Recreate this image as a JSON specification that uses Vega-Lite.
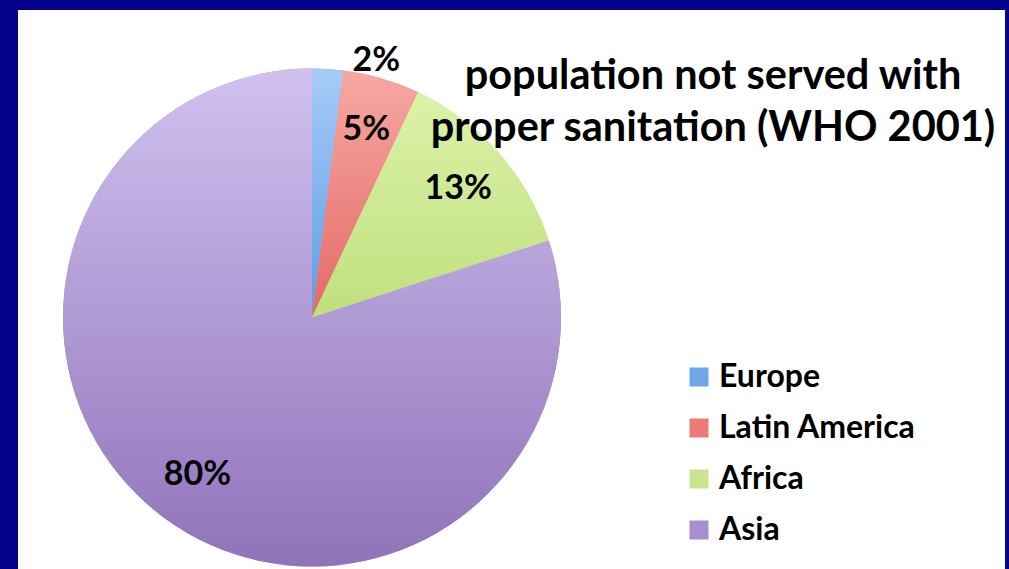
{
  "$schema": "https://vega.github.io/schema/vega-lite/v6.json",
  "background": "#03038c",
  "padding": {"left": 18, "top": 10, "right": 4, "bottom": 0},
  "config": {
    "view": {"fill": "white", "stroke": null},
    "concat": {"spacing": 0},
    "font": "Lato"
  },
  "datasets": {
    "regions": [
      {"region": "Europe", "value": 2, "label": "2%", "order": 1},
      {"region": "Latin America", "value": 5, "label": "5%", "order": 2},
      {"region": "Africa", "value": 13, "label": "13%", "order": 3},
      {"region": "Asia", "value": 80, "label": "80%", "order": 4}
    ]
  },
  "title": {
    "text": ["population not served with", "proper sanitation (WHO 2001)"],
    "font": "Lato",
    "fontSize": 41.5,
    "fontWeight": "bold",
    "color": "black",
    "lineHeight": 52,
    "anchor": "middle",
    "frame": "group",
    "offset": 0,
    "dx": 695,
    "dy": 139
  },
  "spacing": 0,
  "hconcat": [
    {
      "spacing": 0,
      "bounds": "flush",
      "vconcat": [
        {"width": 588, "height": 56, "view": {"fill": "white", "stroke": null}, "data": {"values": []}, "mark": "point"},
        {
          "width": 588,
          "height": 503,
          "view": {"fill": "white", "stroke": null},
          "data": {"name": "regions"},
          "encoding": {
            "theta": {"field": "value", "type": "quantitative", "stack": true},
            "order": {"field": "order", "type": "quantitative"}
          },
          "layer": [
            {
              "mark": {"type": "arc", "outerRadius": 249},
              "encoding": {
                "color": {
                  "field": "region",
                  "type": "nominal",
                  "scale": {
                    "domain": ["Europe", "Latin America", "Africa", "Asia"],
                    "range": ["#6ea8ea", "#ec7b78", "#c9e68f", "#a88dd1"]
                  },
                  "legend": {
                    "orient": "none",
                    "legendX": 665,
                    "legendY": 351,
                    "title": null,
                    "padding": 0,
                    "symbolType": "square",
                    "symbolSize": 361,
                    "symbolStrokeWidth": 0,
                    "labelFont": "Lato",
                    "labelFontSize": 32,
                    "labelFontWeight": "bold",
                    "labelColor": "black",
                    "labelOffset": 4,
                    "labelLimit": 400,
                    "rowPadding": 19
                  }
                }
              }
            },
            {
              "mark": {"type": "arc", "outerRadius": 249},
              "encoding": {
                "detail": {"field": "region"},
                "fill": {
                  "condition": [
                    {"test": "datum.region === 'Europe'", "value": {"gradient": "linear", "x1": 0, "y1": 0, "x2": 0, "y2": 1, "stops": [{"offset": 0, "color": "#a8cbf8"}, {"offset": 1, "color": "#5b9de4"}]}},
                    {"test": "datum.region === 'Latin America'", "value": {"gradient": "linear", "x1": 0, "y1": 0, "x2": 0, "y2": 1, "stops": [{"offset": 0, "color": "#f7a7a3"}, {"offset": 1, "color": "#e46a66"}]}},
                    {"test": "datum.region === 'Africa'", "value": {"gradient": "linear", "x1": 0, "y1": 0, "x2": 0, "y2": 1, "stops": [{"offset": 0, "color": "#dcf2a8"}, {"offset": 1, "color": "#bfe07e"}]}}
                  ],
                  "value": {"gradient": "linear", "x1": 0, "y1": 0, "x2": 0, "y2": 1, "stops": [{"offset": 0, "color": "#d0c1ef"}, {"offset": 1, "color": "#9073ba"}]}
                }
              }
            },
            {
              "mark": {"type": "text", "radius": 195, "font": "Lato", "fontSize": 34, "fontWeight": "bold", "color": "black", "align": "center", "baseline": "middle"},
              "encoding": {
                "detail": {"field": "region"},
                "text": {"condition": {"test": "datum.region !== 'Europe'", "field": "label"}, "value": ""}
              }
            },
            {
              "mark": {"type": "text", "radius": 262, "dx": 24, "dy": 5, "font": "Lato", "fontSize": 34, "fontWeight": "bold", "color": "black", "align": "left", "baseline": "middle"},
              "encoding": {
                "detail": {"field": "region"},
                "text": {"condition": {"test": "datum.region === 'Europe'", "field": "label"}, "value": ""}
              }
            }
          ]
        }
      ]
    },
    {"width": 399, "height": 559, "view": {"fill": "white", "stroke": null}, "data": {"values": []}, "mark": "point"}
  ]
}
